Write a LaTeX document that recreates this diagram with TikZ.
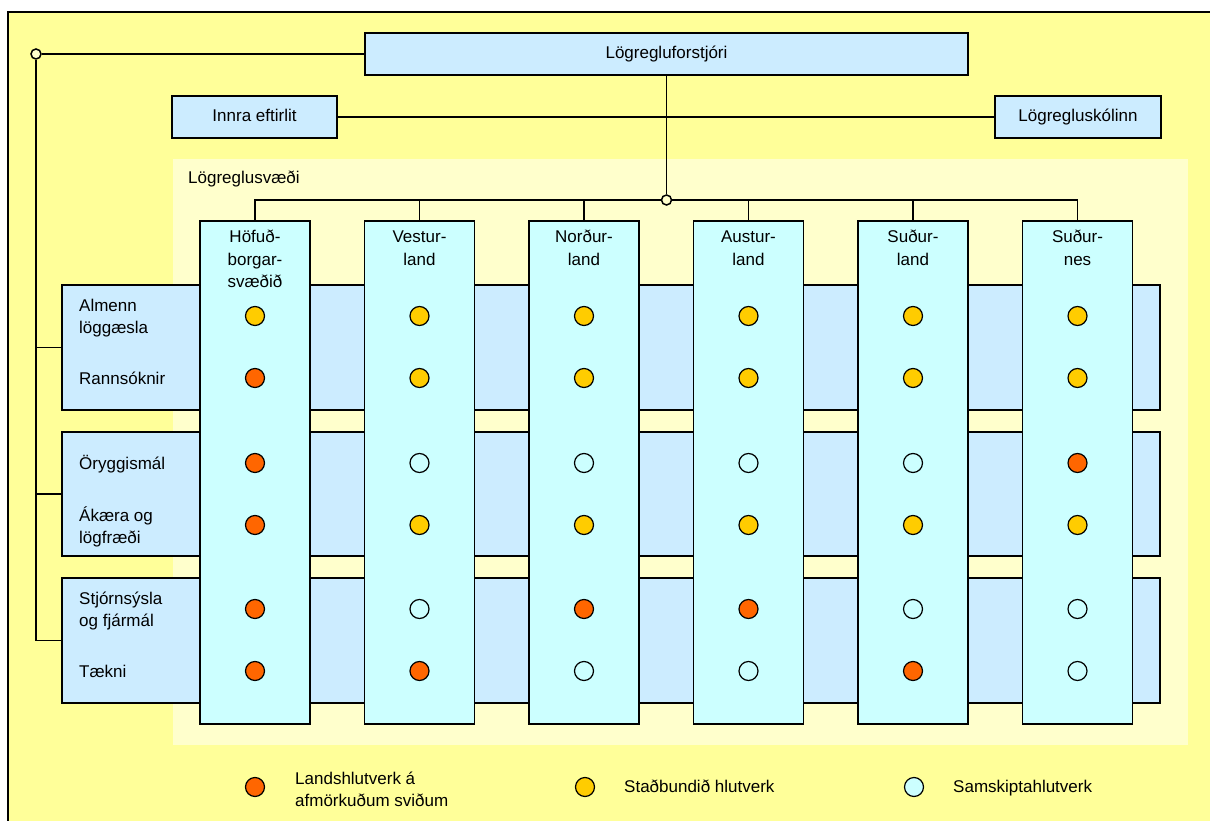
\documentclass[tikz,border=0pt]{standalone}
\usepackage{fontspec}
\setmainfont{Liberation Sans}
\definecolor{outery}{HTML}{FFFF99}
\definecolor{innery}{HTML}{FFFFCC}
\definecolor{boxblue}{HTML}{CCECFF}
\definecolor{colcyan}{HTML}{CCFFFF}
\definecolor{or}{HTML}{FF6600}
\definecolor{go}{HTML}{FFCC00}
\definecolor{cy}{HTML}{CCFFFF}
\tikzset{
  fnt/.style={font=\fontsize{17pt}{22pt}\selectfont},
  hfnt/.style={font=\fontsize{17pt}{22.5pt}\selectfont},
  box/.style={draw, line width=1.5pt, fill=boxblue, inner sep=0pt, fnt, text height=12.5pt, text depth=3.5pt},
  band/.style={draw, line width=1.5pt, fill=boxblue, inner sep=0pt, minimum width=1098pt},
  colbox/.style={draw, line width=1.5pt, fill=colcyan, minimum width=110pt, minimum height=503pt, inner sep=0pt},
  conn/.style={line width=1.5pt},
  dotbase/.style={circle, draw, line width=1.2pt, minimum size=19pt, inner sep=0pt},
  junc/.style={circle, draw, line width=1.5pt, fill=innery, minimum size=10pt, inner sep=0pt},
  lbl/.style={fnt, inner sep=0pt},
  hlbl/.style={hfnt, inner sep=0pt},
}
\begin{document}
\begin{tikzpicture}[x=1pt,y=-1pt]
\useasboundingbox (0,0) rectangle (1210,821);
% outer frame
\fill[outery] (8,12) rectangle (1210,821);
\draw[line width=1.5pt] (8,821) -- (8,12) -- (1210,12);
% police districts area
\fill[innery] (173,159) rectangle (1188,745);
\node[lbl, anchor=base west] (area) at (188,184) {Lögreglusvæði};
% bands
\node[band, minimum height=125pt] (b1) at (611,347.5) {};
\node[band, minimum height=124pt] (b2) at (611,494) {};
\node[band, minimum height=125pt] (b3) at (611,640.5) {};
% columns
\node[colbox] (c1) at (255,472.5) {};
\node[colbox] (c2) at (419.5,472.5) {};
\node[colbox] (c3) at (584,472.5) {};
\node[colbox] (c4) at (748.5,472.5) {};
\node[colbox] (c5) at (913,472.5) {};
\node[colbox] (c6) at (1077.5,472.5) {};
\node[hlbl, anchor=base] (h1) at (255,243) {\begin{tabular}[t]{@{}c@{}}Höfuð-\\borgar-\\svæðið\end{tabular}};
\node[hlbl, anchor=base] (h2) at (419.5,243) {\begin{tabular}[t]{@{}c@{}}Vestur-\\land\end{tabular}};
\node[hlbl, anchor=base] (h3) at (584,243) {\begin{tabular}[t]{@{}c@{}}Norður-\\land\end{tabular}};
\node[hlbl, anchor=base] (h4) at (748.5,243) {\begin{tabular}[t]{@{}c@{}}Austur-\\land\end{tabular}};
\node[hlbl, anchor=base] (h5) at (913,243) {\begin{tabular}[t]{@{}c@{}}Suður-\\land\end{tabular}};
\node[hlbl, anchor=base] (h6) at (1077.5,243) {\begin{tabular}[t]{@{}c@{}}Suður-\\nes\end{tabular}};
% row labels
\node[lbl, anchor=base west] (r1) at (79,311) {\begin{tabular}[t]{@{}l@{}}Almenn\\löggæsla\end{tabular}};
\node[lbl, anchor=base west] (r2) at (79,384) {Rannsóknir};
\node[lbl, anchor=base west] (r3) at (79,469) {Öryggismál};
\node[lbl, anchor=base west] (r4) at (79,521) {\begin{tabular}[t]{@{}l@{}}Ákæra og\\lögfræði\end{tabular}};
\node[lbl, anchor=base west] (r5) at (79,604) {\begin{tabular}[t]{@{}l@{}}Stjórnsýsla\\og fjármál\end{tabular}};
\node[lbl, anchor=base west] (r6) at (79,677) {Tækni};
% dots
\foreach \r/\y/\lst in {1/316/{go,go,go,go,go,go},
                        2/378/{or,go,go,go,go,go},
                        3/463/{or,cy,cy,cy,cy,or},
                        4/525/{or,go,go,go,go,go},
                        5/609/{or,cy,or,or,cy,cy},
                        6/671/{or,or,cy,cy,or,cy}} {
  \foreach \t [count=\i] in \lst {
    \node[dotbase, fill=\t] (d\r-\i) at ({255+164.5*(\i-1)},\y) {};
  }
}
% top boxes
\node[box, minimum width=603pt, minimum height=42pt] (top) at (666.5,54) {Lögregluforstjóri};
\node[box, minimum width=165pt, minimum height=42pt] (innra) at (254.5,117) {Innra eftirlit};
\node[box, minimum width=166pt, minimum height=42pt] (skoli) at (1078,117) {Lögregluskólinn};
% junctions
\node[junc] (lc) at (36,54) {};
\node[junc] (bc) at (666.5,200) {};
\coordinate (j1) at (36,347.5);
\coordinate (j2) at (36,494);
\coordinate (j3) at (36,640.5);
% connectors
\draw[conn] (lc) -- (top.west);
\draw[conn] (lc.south) -- (j3) -- (b3.west);
\draw[conn] (j1) -- (b1.west);
\draw[conn] (j2) -- (b2.west);
\draw[conn] (innra.east) -- (skoli.west);
\draw[conn] (top.south) -- (bc.north);
\draw[conn] (bc.west) -- (c1.north |- bc) -- (c1.north);
\draw[conn] (bc.east) -- (c6.north |- bc) -- (c6.north);
\foreach \k in {2,3,4,5} { \draw[conn] (c\k.north |- bc) -- (c\k.north); }
% legend
\node[dotbase, fill=or] (lg1) at (255,787) {};
\node[lbl, anchor=base west] (lt1) at (295,784) {\begin{tabular}[t]{@{}l@{}}Landshlutverk á\\afmörkuðum sviðum\end{tabular}};
\node[dotbase, fill=go] (lg2) at (585,787) {};
\node[lbl, anchor=base west] (lt2) at (624,792) {Staðbundið hlutverk};
\node[dotbase, fill=cy] (lg3) at (914,787) {};
\node[lbl, anchor=base west] (lt3) at (953,792) {Samskiptahlutverk};
\end{tikzpicture}
\end{document}
